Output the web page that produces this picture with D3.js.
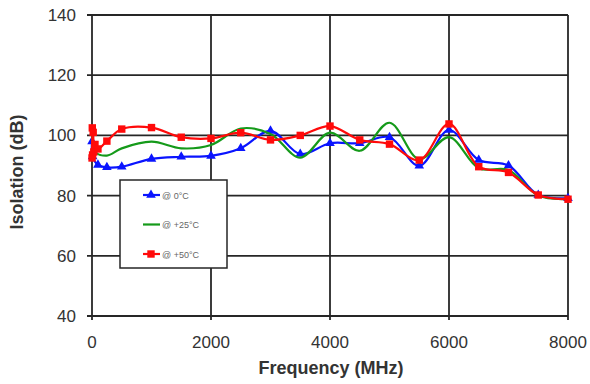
<!DOCTYPE html>
<html>
<head>
<meta charset="utf-8">
<script src="https://cdn.jsdelivr.net/npm/d3@7/dist/d3.min.js"></script>
<style>
  body { margin: 0; background: #fff; }
  text { font-family: "Liberation Sans", Arial, sans-serif; }
</style>
</head>
<body>
<svg id="svg" width="590" height="384"></svg>
<script>
// values
var xTicks = [0, 2000, 4000, 6000, 8000];
var yTicks = [40, 60, 80, 100, 120, 140];

var freqBlue = [1, 10, 100, 250, 500, 1000, 1500, 2000, 2500, 3000, 3500, 4000, 4500, 5000, 5500, 6000, 6500, 7000, 7500, 8000];
var blue0C   = [98, 93, 90.2, 89.4, 89.6, 92.2, 92.9, 93.2, 95.7, 101.5, 93.8, 97.4, 97.4, 99.4, 89.9, 101.8, 91.8, 90, 80.2, 79.1];

var freqGreen = [1, 10, 50, 250, 500, 1000, 1500, 2000, 2500, 3000, 3500, 4000, 4500, 5000, 5500, 6000, 6500, 7000, 7500, 8000];
var green25C  = [103, 98, 94.5, 93.3, 95.7, 97.9, 95.7, 96.8, 102.3, 100.5, 92.6, 100.9, 94.9, 104.2, 92.1, 99.4, 89.1, 88.5, 80, 78.9];

var freqRed = [1, 5, 10, 20, 30, 50, 100, 250, 500, 1000, 1500, 2000, 2500, 3000, 3500, 4000, 4500, 5000, 5500, 6000, 6500, 7000, 7500, 8000];
var red50C  = [92.5, 102.5, 93.5, 101, 94.5, 97, 95.5, 98.1, 102.1, 102.6, 99.4, 99, 100.9, 98.5, 100, 103.1, 98.5, 97.1, 91.8, 103.8, 89.6, 87.7, 80.2, 78.8];

var legendLabels = ["@ 0°C", "@ +25°C", "@ +50°C"];

var svg = d3.select("#svg");
var plotL = 92, plotR = 568, plotT = 15, plotB = 316;

var x = d3.scaleLinear().domain([0, 8000]).range([plotL, plotR]);
var y = d3.scaleLinear().domain([40, 140]).range([plotB, plotT]);

var gridColor = "#262626";

// grid
svg.append("g").selectAll("line")
    .data(yTicks)
    .enter().append("line")
    .attr("x1", plotL - 5).attr("x2", plotR)
    .attr("y1", function (d) { return y(d); })
    .attr("y2", function (d) { return y(d); })
    .attr("stroke", gridColor).attr("stroke-width", 1.8);

svg.append("g").selectAll("line")
    .data(xTicks)
    .enter().append("line")
    .attr("y1", plotT).attr("y2", plotB + 4)
    .attr("x1", function (d) { return x(d); })
    .attr("x2", function (d) { return x(d); })
    .attr("stroke", gridColor).attr("stroke-width", 1.8);

// tick labels
svg.append("g").selectAll("text")
    .data(yTicks)
    .enter().append("text")
    .attr("x", 76)
    .attr("y", function (d) { return y(d) + 6; })
    .attr("text-anchor", "end")
    .attr("font-size", 17)
    .attr("fill", "#333")
    .text(function (d) { return d; });

svg.append("g").selectAll("text")
    .data(xTicks)
    .enter().append("text")
    .attr("x", function (d) { return x(d); })
    .attr("y", 348)
    .attr("text-anchor", "middle")
    .attr("font-size", 17)
    .attr("fill", "#333")
    .text(function (d) { return d; });

// axis titles
svg.append("text")
    .attr("x", 331).attr("y", 374)
    .attr("text-anchor", "middle")
    .attr("font-size", 18).attr("font-weight", "bold")
    .attr("fill", "#333")
    .text("Frequency (MHz)");

svg.append("text")
    .attr("transform", "translate(23,172) rotate(-90)")
    .attr("text-anchor", "middle")
    .attr("font-size", 18).attr("font-weight", "bold")
    .attr("fill", "#333")
    .text("Isolation (dB)");

// series
var series = [
    { f: freqBlue, v: blue0C, color: "#0a14ff", marker: "triangle" },
    { f: freqGreen, v: green25C, color: "#159a1a", marker: null },
    { f: freqRed, v: red50C, color: "#ff0a0a", marker: "square" }
];

var line = d3.line()
    .x(function (d) { return x(d[0]); })
    .y(function (d) { return y(d[1]); })
    .curve(d3.curveCatmullRom.alpha(0.5));

function markerSym(m) {
    return d3.symbol()
        .type(m == "triangle" ? d3.symbolTriangle : d3.symbolSquare)
        .size(m == "triangle" ? 40 : 55);
}

series.forEach(function (s) {
    var pts = s.f.map(function (f, i) { return [f, s.v[i]]; });
    svg.append("path")
        .datum(pts)
        .attr("d", line)
        .attr("fill", "none")
        .attr("stroke", s.color)
        .attr("stroke-width", 2.2);
    if (s.marker) {
        svg.append("g").selectAll("path")
            .data(pts)
            .enter().append("path")
            .attr("d", markerSym(s.marker))
            .attr("transform", function (d) { return "translate(" + x(d[0]) + "," + y(d[1]) + ")"; })
            .attr("fill", s.color);
    }
});

// legend
var lg = svg.append("g");
lg.append("rect")
    .attr("x", 120).attr("y", 180)
    .attr("width", 107).attr("height", 88)
    .attr("fill", "#fff")
    .attr("stroke", gridColor).attr("stroke-width", 1.5);

series.forEach(function (s, i) {
    var ly = 195 + i * 29.5;
    lg.append("line")
        .attr("x1", 143).attr("x2", 160)
        .attr("y1", ly).attr("y2", ly)
        .attr("stroke", s.color).attr("stroke-width", 2.2);
    if (s.marker) {
        lg.append("path")
            .attr("d", markerSym(s.marker))
            .attr("transform", "translate(151," + ly + ")")
            .attr("fill", s.color);
    }
    lg.append("text")
        .attr("x", 162).attr("y", ly + 3.5)
        .attr("font-size", 9)
        .attr("fill", "#666")
        .text(legendLabels[i]);
});
</script>
</body>
</html>
